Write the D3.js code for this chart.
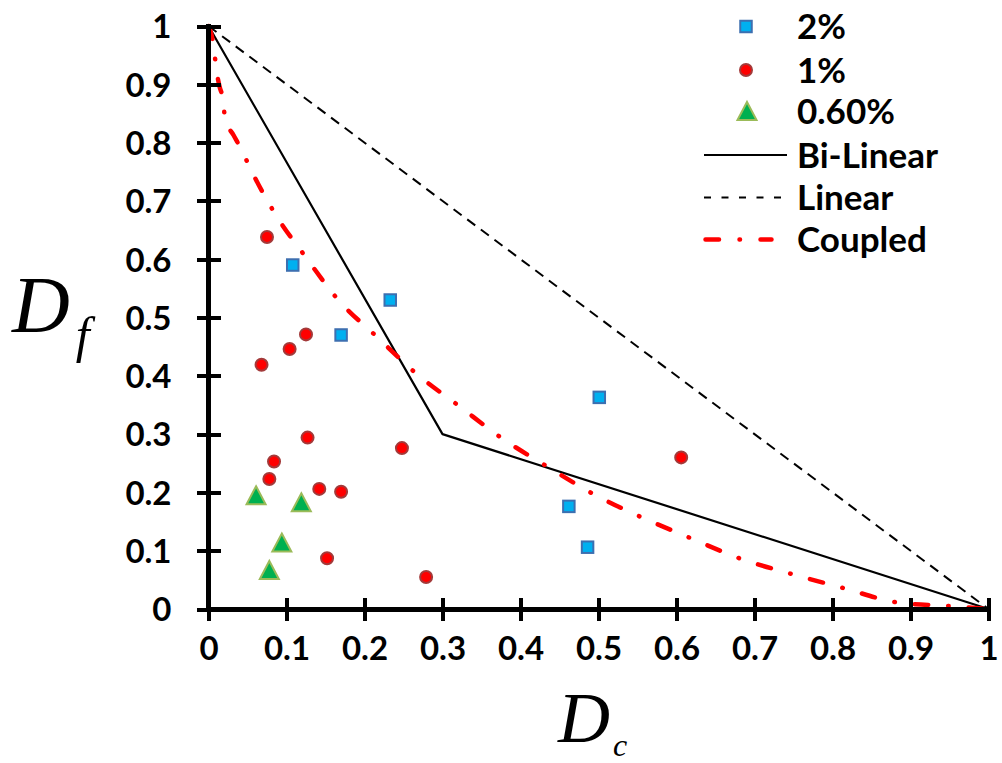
<!DOCTYPE html>
<html>
<head>
<meta charset="utf-8">
<script src="https://cdn.jsdelivr.net/npm/d3@7"></script>
<style>
  html, body { margin: 0; padding: 0; background: #fff; }
  svg { display: block; }
  .tick-label { font-family: Lato, "Open Sans", sans-serif; font-weight: 700; fill: #000; }
  .legend-label { font-family: Lato, "Open Sans", sans-serif; font-weight: 700; fill: #000; }
  .axis-title { font-family: "Liberation Serif", "Times New Roman", serif; font-style: italic; fill: #000; }
</style>
</head>
<body>
<svg id="chart" width="1002" height="763"></svg>
<script>
// ---------------- DATA ----------------
const xTickValues = [0, 0.1, 0.2, 0.3, 0.4, 0.5, 0.6, 0.7, 0.8, 0.9, 1];
const xTickLabels = ["0", "0.1", "0.2", "0.3", "0.4", "0.5", "0.6", "0.7", "0.8", "0.9", "1"];
const yTickValues = [0, 0.1, 0.2, 0.3, 0.4, 0.5, 0.6, 0.7, 0.8, 0.9, 1];
const yTickLabels = ["0", "0.1", "0.2", "0.3", "0.4", "0.5", "0.6", "0.7", "0.8", "0.9", "1"];

const seriesNames = ["2%", "1%", "0.60%", "Bi-Linear", "Linear", "Coupled"];

// [Dc, Df]
const series2pct = [
  [0.108, 0.590], [0.233, 0.530], [0.170, 0.470],
  [0.501, 0.363], [0.462, 0.176], [0.486, 0.106]
];
const series1pct = [
  [0.075, 0.638], [0.125, 0.471], [0.104, 0.446], [0.068, 0.419],
  [0.127, 0.294], [0.248, 0.276], [0.084, 0.253], [0.078, 0.223],
  [0.142, 0.206], [0.170, 0.201], [0.152, 0.087], [0.279, 0.055],
  [0.606, 0.260]
];
const series06pct = [
  [0.061, 0.195], [0.119, 0.183], [0.094, 0.114], [0.078, 0.067]
];
const biLinear = [[0, 1], [0.3, 0.3], [1, 0]];
const linear = [[0, 1], [1, 0]];
const coupled = [
  [0, 1], [0.003, 0.989], [0.007, 0.962], [0.0096, 0.930], [0.014, 0.897],
  [0.019, 0.871], [0.0212, 0.840], [0.032, 0.813], [0.043, 0.786],
  [0.0524, 0.759], [0.0853, 0.678], [0.125, 0.603], [0.1665, 0.530],
  [0.2158, 0.467], [0.2662, 0.404], [0.3214, 0.348], [0.3761, 0.293],
  [0.4346, 0.244], [0.4937, 0.197], [0.5557, 0.157], [0.619, 0.121],
  [0.6827, 0.086], [0.749, 0.0595], [0.8153, 0.0355], [0.882, 0.0115],
  [0.95, 0.005], [1, 0]
];

// ---------------- LAYOUT ----------------
const svg = d3.select("#chart");
const x = d3.scaleLinear().domain([0, 1]).range([208.5, 988.5]);
const y = d3.scaleLinear().domain([0, 1]).range([609, 26]);

// ---------------- LINES ----------------
const line = d3.line().x(d => x(d[0])).y(d => y(d[1]));
const smooth = d3.line().x(d => x(d[0])).y(d => y(d[1])).curve(d3.curveMonotoneX);

svg.append("path").datum(linear)
  .attr("d", line).attr("fill", "none")
  .attr("stroke", "#000").attr("stroke-width", 2)
  .attr("stroke-dasharray", "10,7");

svg.append("path").datum(biLinear)
  .attr("d", line).attr("fill", "none")
  .attr("stroke", "#000").attr("stroke-width", 2.2)
  .attr("stroke-linejoin", "round");

svg.append("path").datum(coupled)
  .attr("d", smooth).attr("fill", "none")
  .attr("stroke", "#ff0000").attr("stroke-width", 4.5)
  .attr("stroke-linecap", "round")
  .attr("stroke-dasharray", "13.5,20,0.5,20");

// ---------------- AXES ----------------
const tickFont = "33px";
const xAxis = d3.axisBottom(x).tickValues(xTickValues).tickFormat((d, i) => xTickLabels[i])
  .tickSizeInner(11.5).tickSizeOuter(0).tickPadding(16);
const gx = svg.append("g").attr("transform", `translate(0,${y(0)})`).call(xAxis);
gx.select(".domain").attr("stroke", "#000").attr("stroke-width", 5)
  .attr("d", `M${x(0) - 2.5},0H${x(1) + 2}`);
gx.selectAll(".tick line").attr("stroke", "#000").attr("stroke-width", 4)
  .attr("y1", -11.5).attr("y2", 11.5);
gx.selectAll(".tick text").attr("class", "tick-label").style("font-size", tickFont)
  .attr("dy", "0.71em");

const yAxis = d3.axisLeft(y).tickValues(yTickValues).tickFormat((d, i) => yTickLabels[i])
  .tickSizeInner(12).tickSizeOuter(0).tickPadding(25);
const gy = svg.append("g").attr("transform", `translate(${x(0)},0)`).call(yAxis);
gy.select(".domain").attr("stroke", "#000").attr("stroke-width", 5)
  .attr("d", `M0,${y(1) - 2}V${y(0) + 2.5}`);
gy.selectAll(".tick line").attr("stroke", "#000").attr("stroke-width", 4)
  .attr("x1", -12).attr("x2", 12);
gy.selectAll(".tick text").attr("class", "tick-label").style("font-size", tickFont)
  .attr("dy", "0.36em");
svg.selectAll(".domain, .tick line").attr("shape-rendering", "crispEdges");

// ---------------- MARKERS ----------------
const sqSize = 11.5;
function drawSquare(g, cx, cy) {
  g.append("rect").attr("x", cx - sqSize / 2).attr("y", cy - sqSize / 2)
    .attr("width", sqSize).attr("height", sqSize)
    .attr("fill", "#00b0f0").attr("stroke", "#3d6fb0").attr("stroke-width", 2);
}
function drawCircle(g, cx, cy) {
  g.append("circle").attr("cx", cx).attr("cy", cy).attr("r", 6)
    .attr("fill", "#ff0000").attr("stroke", "#a33a3a").attr("stroke-width", 2);
}
function drawTriangle(g, cx, cy) {
  const w = 19, h = 18;
  g.append("path")
    .attr("d", `M${cx},${cy - h / 2}L${cx + w / 2},${cy + h / 2}L${cx - w / 2},${cy + h / 2}Z`)
    .attr("fill", "#00b050").attr("stroke", "#9bbb59").attr("stroke-width", 2)
    .attr("stroke-linejoin", "miter");
}

const gm = svg.append("g");
series2pct.forEach(d => drawSquare(gm, x(d[0]), y(d[1])));
series1pct.forEach(d => drawCircle(gm, x(d[0]), y(d[1])));
series06pct.forEach(d => drawTriangle(gm, x(d[0]), y(d[1])));

// ---------------- LEGEND ----------------
const lg = svg.append("g");
const legendRows = [26.5, 70, 111, 155, 197.5, 239.5];
const legendTextX = 797;
const mx = 746;
drawSquare(lg, mx, legendRows[0]);
drawCircle(lg, mx, legendRows[1]);
drawTriangle(lg, mx + 1, legendRows[2]);
lg.append("line").attr("x1", 704).attr("x2", 787).attr("y1", legendRows[3]).attr("y2", legendRows[3])
  .attr("stroke", "#000").attr("stroke-width", 2.2);
lg.append("line").attr("x1", 704).attr("x2", 782).attr("y1", legendRows[4]).attr("y2", legendRows[4])
  .attr("stroke", "#000").attr("stroke-width", 2).attr("stroke-dasharray", "7,10.5");
lg.append("line").attr("x1", 705.5).attr("x2", 771.5).attr("y1", legendRows[5]).attr("y2", legendRows[5])
  .attr("stroke", "#ff0000").attr("stroke-width", 4.5).attr("stroke-linecap", "round")
  .attr("stroke-dasharray", "13.5,20.5,0.5,20.5");
seriesNames.forEach((name, i) => {
  lg.append("text").attr("class", "legend-label")
    .attr("x", legendTextX).attr("y", legendRows[i]).attr("dy", "0.36em")
    .style("font-size", "35px").text(name);
});

// ---------------- AXIS TITLES ----------------
const ty = svg.append("text").attr("class", "axis-title").attr("x", 12).attr("y", 332);
ty.append("tspan").style("font-size", "80px").text("D");
ty.append("tspan").style("font-size", "50px").attr("dx", "6").attr("dy", "20").text("f");

const tx = svg.append("text").attr("class", "axis-title").attr("x", 558).attr("y", 742);
tx.append("tspan").style("font-size", "72px").text("D");
tx.append("tspan").style("font-size", "32px").attr("dx", "3").attr("dy", "14").text("c");
</script>
</body>
</html>
